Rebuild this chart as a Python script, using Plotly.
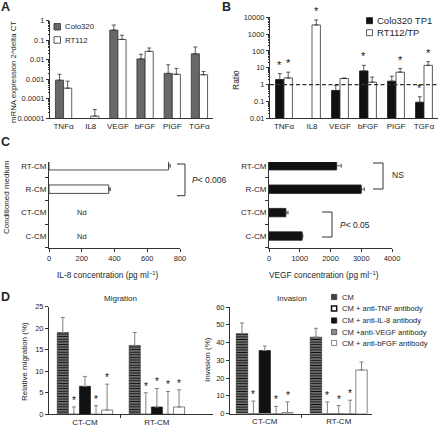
import math
import plotly.graph_objects as go

W, H = 439, 428
FONT = "Liberation Sans, Arial, Helvetica, sans-serif"
TXT = "#262626"
AX = "#333333"

# ---------------- data ----------------
genes = ["TNFα", "IL8", "VEGF", "bFGF", "PIGF", "TGFα"]
a_colo = [0.0009, None, 0.33, 0.011, 0.002, 0.02]
a_colo_top = [0.0018, None, 0.6, 0.019, 0.0055, 0.045]
a_rt = [0.00035, 0.000013, 0.11, 0.027, 0.0018, 0.0017]
a_rt_top = [0.0008, 0.000028, 0.18, 0.04, 0.0036, 0.0025]
a_ticks = [0.00001, 0.0001, 0.001, 0.01, 0.1, 1]
a_ticklabels = ["0.00001", "0.0001", "0.001", "0.01", "0.1", "1"]

b_colo = [2.0, None, 0.45, 6.5, 1.6, 0.09]
b_colo_top = [4.5, None, 0.9, 14, 3.2, 0.19]
b_colo_sig = [1, 0, 0, 1, 0, 1]
b_rt = [2.5, 3500, 2.3, 1.4, 5.5, 14]
b_rt_top = [5.5, 7000, 2.5, 2.8, 9, 23]
b_rt_sig = [1, 1, 0, 0, 1, 1]
b_ticks = [0.01, 0.1, 1, 10, 100, 1000, 10000]
b_ticklabels = ["0.01", "0.1", "1", "10", "100", "1000", "10000"]

media = ["C-CM", "CT-CM", "R-CM", "RT-CM"]
il8 = [None, None, 365, 730]
il8_top = [None, None, 375, 740]
vegf = [1080, 550, 3000, 2200]
vegf_top = [1100, 620, 3100, 2350]

groups = ["CT-CM", "RT-CM"]
treat = ["CM", "CM + anti-TNF antibody", "CM + anti-IL-8 antibody",
         "CM +anti-VEGF antibody", "CM + anti-bFGF antibody"]
mig = [[19, 16], [0, 0], [6.5, 1.7], [0, 0], [1, 1.7]]
mig_top = [[22.5, 19], [1.7, 5], [8.8, 6], [2, 5.3], [7, 5.7]]
mig_sig = [[0, 0], [1, 1], [0, 1], [1, 1], [1, 1]]
inv = [[45, 43], [0, 0], [35.5, 0], [0, 0], [0.5, 24.5]]
inv_top = [[51, 48], [7, 6.5], [38, 4.5], [4, 7.5], [6.5, 29]]
inv_sig = [[0, 0], [1, 1], [0, 1], [1, 1], [1, 0]]


def xd(a, b):
    return [a / W, b / W]


def yd(top, bottom):
    return [1 - bottom / H, 1 - top / H]


def up(vals, tops):
    return [(t - v) if (v is not None and t is not None) else None for v, t in zip(vals, tops)]


fig = go.Figure()
anns = []


def add_bar(xa, ya, x, y, top, offset, width, marker, ecolor="#333", ethick=0.8, ewidth=2):
    fig.add_trace(go.Bar(
        x=x, y=y, offset=offset, width=width, marker=marker,
        error_y=dict(type="data", symmetric=False, array=up(y, top),
                     arrayminus=[0] * len(y), color=ecolor, thickness=ethick, width=ewidth),
        xaxis=xa, yaxis=ya, showlegend=False, hoverinfo="skip"))


def star(xa, ya, x, y, log=False, shift=2, size=10):
    anns.append(dict(x=x, y=math.log10(y) if log else y, xref=xa, yref=ya, text="*",
                     showarrow=False, xanchor="center", yanchor="bottom", yshift=shift,
                     borderpad=0, font=dict(family=FONT, size=size, color="#111")))


# ---------- Panel A ----------
pos = list(range(len(genes)))
BW = 0.3
add_bar("x", "y", pos, a_colo, a_colo_top, -BW, BW,
        dict(color="#686868", line=dict(color="#333", width=0.8)))
add_bar("x", "y", pos, a_rt, a_rt_top, 0, BW,
        dict(color="white", line=dict(color="#333", width=0.8)))

# ---------- Panel B ----------
add_bar("x2", "y2", pos, b_colo, b_colo_top, -BW, BW,
        dict(color="#111", line=dict(color="#111", width=0.8)))
add_bar("x2", "y2", pos, b_rt, b_rt_top, 0, BW,
        dict(color="white", line=dict(color="#333", width=0.8)))
fig.add_trace(go.Scatter(x=[-0.5, len(genes) - 0.5], y=[1, 1], mode="lines",
                         line=dict(color="#333", width=1.3, dash="4px,2.5px"),
                         xaxis="x2", yaxis="y2", showlegend=False, hoverinfo="skip"))
for i in pos:
    if b_colo_sig[i]:
        star("x2", "y2", i - BW / 2, b_colo_top[i], log=True, shift=2, size=11)
    if b_rt_sig[i]:
        star("x2", "y2", i + BW / 2, b_rt_top[i], log=True, shift=2, size=11)

# ---------- Panel C ----------
CW = 0.36
for xa, ya, vals, tops, col in [("x3", "y3", il8, il8_top, "white"),
                                ("x4", "y4", vegf, vegf_top, "#111")]:
    fig.add_trace(go.Bar(
        y=media, x=vals, orientation="h", width=CW,
        marker=dict(color=col, line=dict(color="#222", width=0.8)),
        error_x=dict(type="data", symmetric=False, array=up(vals, tops),
                     arrayminus=[0] * len(vals), color="#333", thickness=0.8, width=2),
        xaxis=xa, yaxis=ya, showlegend=False, hoverinfo="skip"))

# ---------- Panel D ----------
GW = 0.77
dw = GW / len(treat)
dstyles = [
    dict(color="#808080", pattern=dict(shape="-", fgcolor="#111", bgcolor="#8a8a8a",
                                       size=2.6, solidity=0.5),
         line=dict(color="#222", width=0.6)),
    dict(color="white", line=dict(color="#111", width=1.2)),
    dict(color="#111", line=dict(color="#111", width=0.6)),
    dict(color="#8a8a8a", line=dict(color="#333", width=0.6)),
    dict(color="white", line=dict(color="#333", width=0.6)),
]
gpos = list(range(len(groups)))
for xa, ya, vals, tops, sig in [("x5", "y5", mig, mig_top, mig_sig),
                                ("x6", "y6", inv, inv_top, inv_sig)]:
    for j in range(len(treat)):
        off = -GW / 2 + j * dw
        add_bar(xa, ya, gpos, vals[j], tops[j], off, dw, dstyles[j],
                ecolor="#808080", ethick=1, ewidth=2)
        for g in gpos:
            if sig[j][g]:
                star(xa, ya, g + off + dw / 2, tops[j][g], shift=0, size=10)

# ---------------- axes ----------------
base = dict(showline=True, linecolor=AX, linewidth=1, showgrid=False, zeroline=False,
            tickfont=dict(family=FONT, size=7.5, color=TXT), ticks="outside",
            ticklen=3, tickcolor=AX, tickwidth=1, fixedrange=True)
catfont = dict(family=FONT, size=8, color=TXT)

layout_axes = dict(
    xaxis=dict(base, domain=xd(50, 213), range=[-0.5, 5.5], tickmode="array",
               tickvals=pos, ticktext=genes, ticks="", anchor="y", tickfont=catfont),
    yaxis=dict(base, domain=yd(20.7, 118.3), type="log", range=[-5, 0], tickmode="array",
               tickvals=a_ticks, ticktext=a_ticklabels, anchor="x",
               minor=dict(ticks="outside", ticklen=1.5, dtick="D1", tickcolor=AX)),
    xaxis2=dict(base, domain=xd(270, 438), range=[-0.5, 5.5], tickmode="array",
                tickvals=pos, ticktext=genes, ticks="", anchor="y2", tickfont=catfont),
    yaxis2=dict(base, domain=yd(17.3, 118.3), type="log", range=[-2, 4], tickmode="array",
                tickvals=b_ticks, ticktext=b_ticklabels, anchor="x2",
                minor=dict(ticks="outside", ticklen=1.5, dtick="D1", tickcolor=AX)),
    xaxis3=dict(base, domain=xd(49, 180), range=[0, 800], dtick=200, anchor="y3"),
    yaxis3=dict(base, domain=yd(162, 248), type="category", categoryorder="array",
                categoryarray=media, range=[-0.51, 3.16], tickson="boundaries",
                anchor="x3", tickfont=catfont),
    xaxis4=dict(base, domain=xd(269, 392), range=[0, 4000], dtick=1000, anchor="y4"),
    yaxis4=dict(base, domain=yd(162, 248), type="category", categoryorder="array",
                categoryarray=media, range=[-0.51, 3.16], tickson="boundaries",
                anchor="x4", tickfont=catfont),
    xaxis5=dict(base, domain=xd(49, 213), range=[-0.5, 1.78], tickmode="array",
                tickvals=gpos, ticktext=groups, ticks="", anchor="y5", tickfont=catfont,
                minor=dict(tickmode="array", tickvals=[0.5], ticks="outside", ticklen=3,
                           tickcolor=AX)),
    yaxis5=dict(base, domain=yd(306.7, 414.3), range=[0, 25], dtick=5, anchor="x5"),
    xaxis6=dict(base, domain=xd(230, 372), range=[-0.47, 1.45], tickmode="array",
                tickvals=gpos, ticktext=groups, ticks="", anchor="y6", tickfont=catfont,
                minor=dict(tickmode="array", tickvals=[0.5], ticks="outside", ticklen=3,
                           tickcolor=AX)),
    yaxis6=dict(base, domain=yd(307, 413.5), range=[0, 60], dtick=10, anchor="x6"),
)


# ---------------- annotations ----------------
def ann(x, y, text, size=8, xanchor="center", yanchor="middle", angle=0):
    return dict(x=x / W, y=1 - y / H, xref="paper", yref="paper", text=text,
                showarrow=False, xanchor=xanchor, yanchor=yanchor, textangle=angle,
                font=dict(family=FONT, size=size, color=TXT))


anns += [
    ann(5, 7, "<b>A</b>", 12.5), ann(226, 7, "<b>B</b>", 12.5),
    ann(5, 142, "<b>C</b>", 12.5), ann(5, 297, "<b>D</b>", 12.5),
    ann(13, 72, "mRNA expression 2^delta CT", 7.8, angle=-90),
    ann(236, 80, "Ratio", 8.5, angle=-90),
    ann(6, 197, "Conditioned medium", 8, angle=-90),
    ann(107, 275, "IL-8 concentration (pg ml<sup>−1</sup>)", 8.3),
    ann(324, 275, "VEGF concentration (pg ml<sup>−1</sup>)", 8.3),
    ann(190, 180, "<i>P</i>< 0.006", 8.5, xanchor="left"),
    ann(390, 175, "NS", 8.5, xanchor="left"),
    ann(338, 225, "<i>P</i>< 0.05", 8.5, xanchor="left"),
    ann(24, 362, "Relative migration (%)", 8, angle=-90),
    ann(207, 360, "Invasion (%)", 8, angle=-90),
    ann(120, 298, "Migration", 8),
    ann(292, 298, "Invasion", 8),
    # legend texts
    ann(62.5, 27, "Colo320", 7.8, xanchor="left"),
    ann(62.5, 40, "RT112", 7.8, xanchor="left"),
    ann(375, 20.7, "Colo320 TP1", 9.5, xanchor="left"),
    ann(375, 32.7, "RT112/TP", 9.5, xanchor="left"),
]
for m in ["C-CM", "CT-CM"]:
    anns.append(dict(x=200, y=m, xref="x3", yref="y3", text="Nd", showarrow=False,
                     font=dict(family=FONT, size=7.5, color=TXT)))

d_leg_y = [297, 308.5, 320.5, 332, 343]
for name, yy in zip(treat, d_leg_y):
    anns.append(ann(339.5, yy, name, 7.6, xanchor="left"))


# ---------------- shapes ----------------
def rect(x0, y0, x1, y1, fill, line="#333", lw=0.8):
    return dict(type="rect", xref="paper", yref="paper", x0=x0 / W, x1=x1 / W,
                y0=1 - y0 / H, y1=1 - y1 / H, fillcolor=fill, line=dict(color=line, width=lw))


def bracket(xl, xr, yt, yb):
    p = "M{},{} L{},{} L{},{} L{},{}".format(xl / W, 1 - yt / H, xr / W, 1 - yt / H,
                                           xr / W, 1 - yb / H, xl / W, 1 - yb / H)
    return dict(type="path", xref="paper", yref="paper", path=p,
                line=dict(color=AX, width=1))


shapes = [
    rect(54, 23.5, 60.5, 30, "#686868"),
    rect(54, 36.7, 60.5, 43.2, "white"),
    rect(366.5, 17.7, 372.5, 23.7, "#111", "#111"),
    rect(366.5, 29.7, 372.5, 35.7, "white"),
    bracket(177, 185, 164, 195.7),
    bracket(373, 383, 163, 189),
    bracket(322, 332, 212, 237),
]
d_leg_style = [("#444", "#333", 0.8), ("white", "#111", 1.5), ("#111", "#111", 0.8),
               ("#8a8a8a", "#444", 0.8), ("white", "#555", 0.7)]
for (fc, lc, lw), yy in zip(d_leg_style, d_leg_y):
    shapes.append(rect(331.5, yy - 2.6, 336.7, yy + 2.6, fc, lc, lw))

fig.update_layout(
    width=W, height=H, margin=dict(l=0, r=0, t=0, b=0),
    paper_bgcolor="white", plot_bgcolor="white", template="none",
    barmode="overlay", showlegend=False, annotations=anns, shapes=shapes,
    font=dict(family=FONT, size=8, color=TXT), **layout_axes)

fig.write_html("out.html", config={"displayModeBar": False, "staticPlot": True},
               post_script="document.body.style.margin='0';")
